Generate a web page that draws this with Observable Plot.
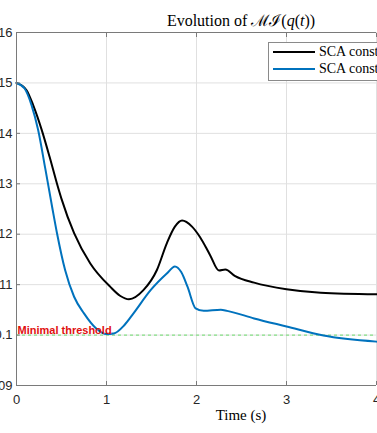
<!DOCTYPE html>
<html><head><meta charset="utf-8">
<script src="https://cdn.jsdelivr.net/npm/d3@7"></script>
<script src="https://cdn.jsdelivr.net/npm/@observablehq/plot@0.6"></script>
<style>
html,body{margin:0;padding:0;width:377px;height:433px;overflow:hidden;background:#fff;}
#wrap{position:relative;width:377px;height:433px;overflow:hidden;}
#chart{position:absolute;left:0;top:0;}
#title{position:absolute;left:0;width:482px;top:9px;text-align:center;font:16px "Liberation Serif","Times New Roman",serif;color:#000;white-space:nowrap;}
#xlabel{position:absolute;left:0;width:482px;top:407px;text-align:center;font:15px "Liberation Serif","Times New Roman",serif;color:#000;white-space:nowrap;}
#legend{position:absolute;left:268px;top:42px;width:220px;height:37px;border:1px solid #8a8a8a;background:#fff;font:14px "Liberation Serif","Times New Roman",serif;color:#000;}
.li{position:absolute;left:4px;height:18px;white-space:nowrap;}
.sw{display:inline-block;width:42px;height:0;border-top:2px solid #000;vertical-align:middle;margin-right:4px;position:relative;top:-1px;}
</style>
</head><body>
<div id="wrap">
<div id="chart"></div>
<div id="title">Evolution of ℳℐ(<i>q</i>(<i>t</i>))</div>
<div id="xlabel">Time (s)</div>
<div id="legend"></div>
</div>
<script>
const xTicks = [0, 1, 2, 3, 4];
const yTicks = [0.09, 0.10, 0.11, 0.12, 0.13, 0.14, 0.15, 0.16];
const threshold = 0.1;
const thresholdLabel = "Minimal threshold";
const seriesNames = ["SCA constraint (a)", "SCA constraint (b)"];
const seriesColors = ["#000000", "#0072BD"];

const tBlack = [0, 0.11, 0.185, 0.28, 0.37, 0.45, 0.5, 0.64, 0.82, 1.04, 1.15, 1.25, 1.41, 1.56, 1.67, 1.76, 1.84, 1.95, 2.04, 2.15, 2.25, 2.32, 2.43, 2.64, 3.0, 3.38, 4.0];
const vBlack = [0.15, 0.1486, 0.1456, 0.1407, 0.1352, 0.1300, 0.1270, 0.1202, 0.1142, 0.1096, 0.1078, 0.1071, 0.1089, 0.1129, 0.1182, 0.1215, 0.1227, 0.1215, 0.1194, 0.1159, 0.1128, 0.1130, 0.1117, 0.1104, 0.1091, 0.1084, 0.1081];
const tBlue = [0, 0.09, 0.167, 0.24, 0.32, 0.4, 0.45, 0.54, 0.64, 0.75, 0.88, 1.0, 1.08, 1.2, 1.3, 1.49, 1.67, 1.76, 1.83, 1.9, 1.99, 2.08, 2.27, 2.34, 2.64, 3.0, 3.41, 4.0];
const vBlue = [0.15, 0.1489, 0.1456, 0.1407, 0.1330, 0.1250, 0.1202, 0.1129, 0.1076, 0.1043, 0.1014, 0.1002, 0.1003, 0.1020, 0.1043, 0.1089, 0.1122, 0.1136, 0.1125, 0.1096, 0.1053, 0.1048, 0.1050, 0.1048, 0.1033, 0.1017, 0.0999, 0.0987];

const blackData = tBlack.map((t, i) => ({t, v: vBlack[i]}));
const blueData = tBlue.map((t, i) => ({t, v: vBlue[i]}));
const axisColor = "#7a7a7a";
const fmt = d => String(+d.toFixed(2));

const plot = Plot.plot({
  width: 377, height: 433,
  marginTop: 32, marginBottom: 48, marginLeft: 16, marginRight: 1,
  style: {fontFamily: "'Liberation Sans', Arial, sans-serif", fontSize: "13px", color: "#262626", overflow: "visible", background: "transparent"},
  x: {domain: [0, 4]},
  y: {domain: [0.09, 0.16]},
  marks: [
    Plot.gridX(xTicks, {stroke: "#e0e0e0", strokeOpacity: 1}),
    Plot.gridY(yTicks, {stroke: "#e0e0e0", strokeOpacity: 1}),
    Plot.ruleY([threshold], {stroke: "#86e086", strokeDasharray: "3,3", strokeWidth: 1.3}),
    Plot.line(blackData, {x: "t", y: "v", stroke: seriesColors[0], strokeWidth: 2, curve: "monotone-x"}),
    Plot.line(blueData, {x: "t", y: "v", stroke: seriesColors[1], strokeWidth: 2, curve: "monotone-x"}),
    Plot.text([thresholdLabel], {x: () => 0, y: () => threshold, text: d => d, textAnchor: "start", lineAnchor: "bottom", dx: 1, dy: -1, fill: "#e01010", fontWeight: "bold", fontSize: 11, fontFamily: "'Liberation Sans', Arial, sans-serif"}),
    Plot.ruleX([0], {stroke: axisColor}),
    Plot.ruleY([0.09, 0.16], {stroke: axisColor}),
    Plot.axisX(xTicks, {anchor: "bottom", tickSize: 0, tickPadding: 9, label: null}),
    Plot.axisY(yTicks, {anchor: "left", tickSize: 0, tickPadding: 4, label: null, tickFormat: fmt}),
    Plot.axisX(xTicks, {anchor: "bottom", tickSize: -4, tickFormat: () => "", label: null, stroke: axisColor}),
    Plot.axisX(xTicks, {anchor: "top", tickSize: -4, tickFormat: () => "", label: null, stroke: axisColor}),
    Plot.axisY(yTicks, {anchor: "left", tickSize: -4, tickFormat: () => "", label: null, stroke: axisColor})
  ]
});
document.getElementById("chart").appendChild(plot);

const legend = document.getElementById("legend");
seriesNames.forEach((name, i) => {
  const row = document.createElement("div");
  row.className = "li";
  row.style.top = (1 + i * 17) + "px";
  const sw = document.createElement("span");
  sw.className = "sw";
  sw.style.borderTopColor = seriesColors[i];
  row.appendChild(sw);
  row.appendChild(document.createTextNode(name));
  legend.appendChild(row);
});
</script>
</body></html>
